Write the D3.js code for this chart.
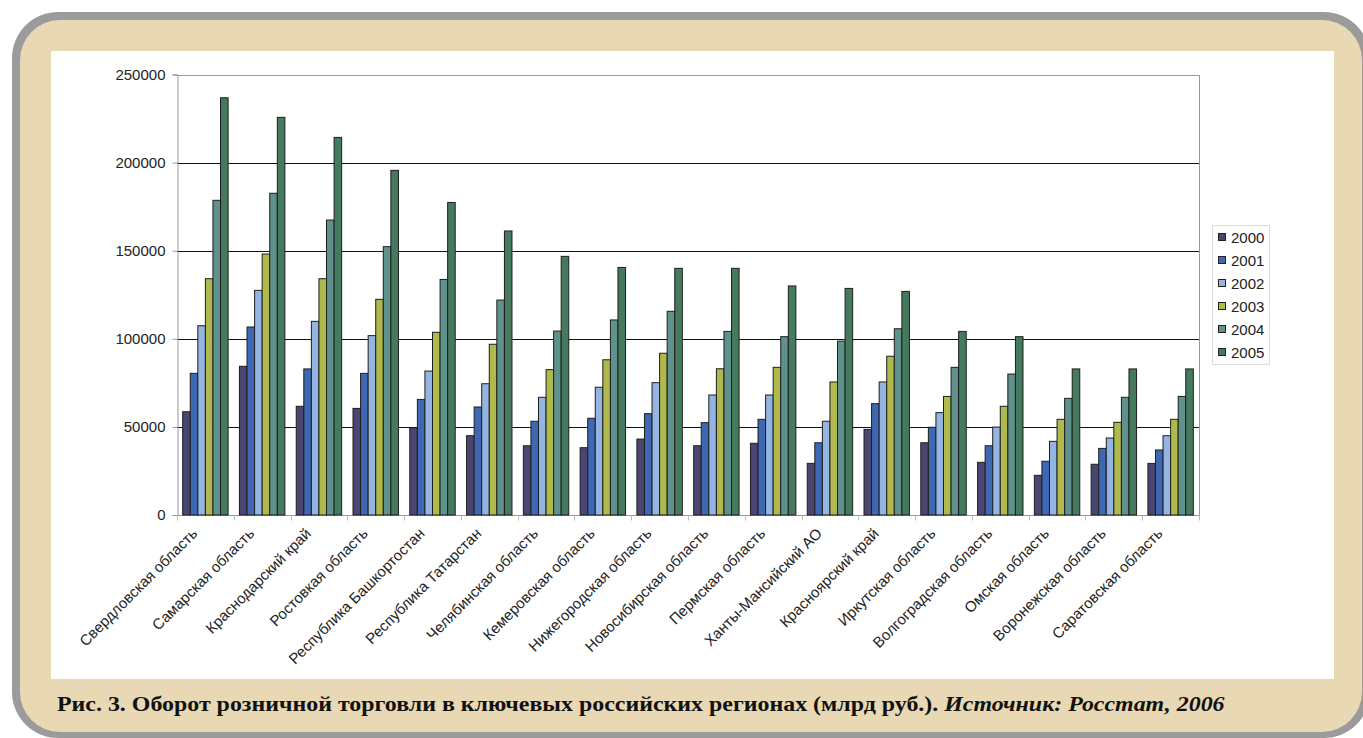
<!DOCTYPE html>
<html>
<head>
<meta charset="utf-8">
<script src="https://cdn.jsdelivr.net/npm/d3@7"></script>
<style>
  body { margin: 0; background: #fff; }
  svg { display: block; }
  .axis text { font-family: "Liberation Sans", Arial, sans-serif; font-size: 15px; fill: #222; }
</style>
</head>
<body>
<div id="chart"></div>
<script>
const regions = [
  "Свердловская область", "Самарская область", "Краснодарский край", "Ростовкая область",
  "Республика Башкортостан", "Республика Татарстан", "Челябинская область", "Кемеровская область",
  "Нижегородская область", "Новосибирская область", "Пермская область", "Ханты-Мансийский АО",
  "Красноярский край", "Иркутская область", "Волгоградская область", "Омская область",
  "Воронежская область", "Саратовская область"
];
const years = ["2000", "2001", "2002", "2003", "2004", "2005"];
const yearColors = ["#4b4671", "#3e67b4", "#94b5e1", "#b0b94b", "#5f928c", "#467a5f"];
const yTicks = [0, 50000, 100000, 150000, 200000, 250000];

const v2000 = [58600, 84400, 61700, 60500, 49500, 45000, 39300, 38200, 43100, 39300, 40700, 29300, 48600, 41000, 29900, 22500, 28800, 29300];
const v2001 = [80400, 106700, 82900, 80400, 65600, 61300, 53200, 54900, 57500, 52400, 54300, 41000, 63200, 49800, 39300, 30500, 37800, 36900];
const v2002 = [107400, 127500, 109900, 101800, 81700, 74500, 66800, 72500, 75100, 68100, 68100, 53200, 75500, 58100, 49900, 41800, 43700, 45000];
const v2003 = [134100, 148100, 134100, 122400, 103700, 96900, 82500, 88100, 91800, 83000, 83800, 75500, 90100, 67300, 61700, 54300, 52600, 54300];
const v2004 = [178600, 182600, 167400, 152300, 133700, 122000, 104400, 110700, 115600, 104200, 101200, 98700, 105700, 83800, 80000, 66200, 66800, 67300];
const v2005 = [236800, 225700, 214300, 195600, 177400, 161200, 146800, 140500, 140000, 140000, 130000, 128600, 126900, 104200, 101200, 82900, 82900, 82900];
const series = [v2000, v2001, v2002, v2003, v2004, v2005];

const W = 1363, H = 738;
const svg = d3.select("#chart").append("svg").attr("width", W).attr("height", H);

// frame: gray rim, beige card, white panel
svg.append("rect").attr("x", 12).attr("y", 12).attr("width", 1358).attr("height", 726)
  .attr("rx", 46).attr("fill", "#9b9b9b");
svg.append("rect").attr("x", 20).attr("y", 20).attr("width", 1342).attr("height", 712)
  .attr("rx", 40).attr("fill", "#e8d8b4");
svg.append("rect").attr("x", 51).attr("y", 51).attr("width", 1283).attr("height", 628)
  .attr("fill", "#fff");

const plot = { left: 177, right: 1199, top: 74.5, bottom: 515 };

const x = d3.scaleBand().domain(regions).range([plot.left, plot.right])
  .paddingInner(0.2).paddingOuter(0.1);
const xStep = x.step();
const xYear = d3.scaleBand().domain(years).range([0, x.bandwidth()]);
const y = d3.scaleLinear().domain([0, 250000]).range([plot.bottom, plot.top]);

// gridlines
svg.append("g").selectAll("line").data(yTicks.filter(d => d > 0 && d < 250000)).enter()
  .append("line")
  .attr("x1", plot.left).attr("x2", plot.right)
  .attr("y1", d => Math.round(y(d)) + 0.5).attr("y2", d => Math.round(y(d)) + 0.5)
  .attr("stroke", "#111").attr("stroke-width", 1);

// plot border (top and right)
svg.append("path")
  .attr("d", `M${plot.left},${Math.round(plot.top) + 0.5}H${plot.right + 0.5}V${plot.bottom}`)
  .attr("fill", "none").attr("stroke", "#999");

// y axis
const yAxis = svg.append("g").attr("class", "axis")
  .attr("transform", `translate(${plot.left + 0.5},0)`)
  .call(d3.axisLeft(y).tickValues(yTicks).tickSize(5).tickPadding(7).tickFormat(d3.format("d")));
yAxis.select(".domain").attr("stroke", "#999");
yAxis.selectAll(".tick line").attr("stroke", "#999");

// x axis: ticks between categories
const xAxisG = svg.append("g").attr("transform", `translate(0,${plot.bottom + 0.5})`);
xAxisG.append("line").attr("x1", plot.left).attr("x2", plot.right + 1)
  .attr("stroke", "#999");
xAxisG.selectAll(".sep").data(d3.range(regions.length + 1)).enter().append("line")
  .attr("x1", i => Math.round(plot.left + i * xStep) + 0.5)
  .attr("x2", i => Math.round(plot.left + i * xStep) + 0.5)
  .attr("y1", 0).attr("y2", 5).attr("stroke", "#bbb");

xAxisG.selectAll(".lbl").data(regions).enter().append("text")
  .attr("class", "lbl")
  .attr("transform", d => `translate(${x(d) + x.bandwidth() / 2 - 7},${19}) rotate(-45)`)
  .attr("text-anchor", "end")
  .attr("font-family", "'Liberation Sans', Arial, sans-serif")
  .attr("font-size", 15).attr("fill", "#222")
  .text(d => d);

// bars
const groups = svg.append("g").selectAll("g").data(regions).enter().append("g")
  .attr("transform", d => `translate(${x(d)},0)`);

groups.selectAll("rect")
  .data((d, i) => years.map((yr, k) => ({ yr, k, value: series[k][i] })))
  .enter().append("rect")
  .attr("x", d => xYear(d.yr))
  .attr("y", d => y(d.value))
  .attr("width", xYear.bandwidth())
  .attr("height", d => y(0) - y(d.value))
  .attr("fill", d => yearColors[d.k])
  .attr("stroke", "#1e1e1e").attr("stroke-width", 1);

// legend
const legend = svg.append("g").attr("transform", "translate(1212,225)");
legend.append("rect").attr("x", 0.5).attr("y", 0.5).attr("width", 57).attr("height", 139)
  .attr("fill", "#fff").attr("stroke", "#ddd");
const li = legend.selectAll(".li").data(years).enter().append("g")
  .attr("transform", (d, i) => `translate(6,${12 + i * 23})`);
li.append("rect").attr("x", 0.5).attr("y", -3.5).attr("width", 7).attr("height", 7)
  .attr("fill", (d, i) => yearColors[i]).attr("stroke", "#222");
li.append("text").attr("x", 13).attr("y", 5.5)
  .attr("font-family", "'Liberation Sans', Arial, sans-serif").attr("font-size", 15)
  .attr("fill", "#222").text(d => d);

// caption
const cap = svg.append("text").attr("x", 57).attr("y", 711)
  .attr("font-family", "'Liberation Serif', 'DejaVu Serif', serif")
  .attr("font-size", 20).attr("font-weight", "bold").attr("fill", "#111");
cap.append("tspan").text("Рис. 3. Оборот розничной торговли в ключевых российских регионах (млрд руб.). ");
cap.append("tspan").attr("font-style", "italic").text("Источник: Росстат, 2006");
const capW = cap.node().getComputedTextLength();
const target = 1168;
cap.attr("transform", `translate(57,0) scale(${target / capW},1) translate(-57,0)`);
</script>
</body>
</html>
